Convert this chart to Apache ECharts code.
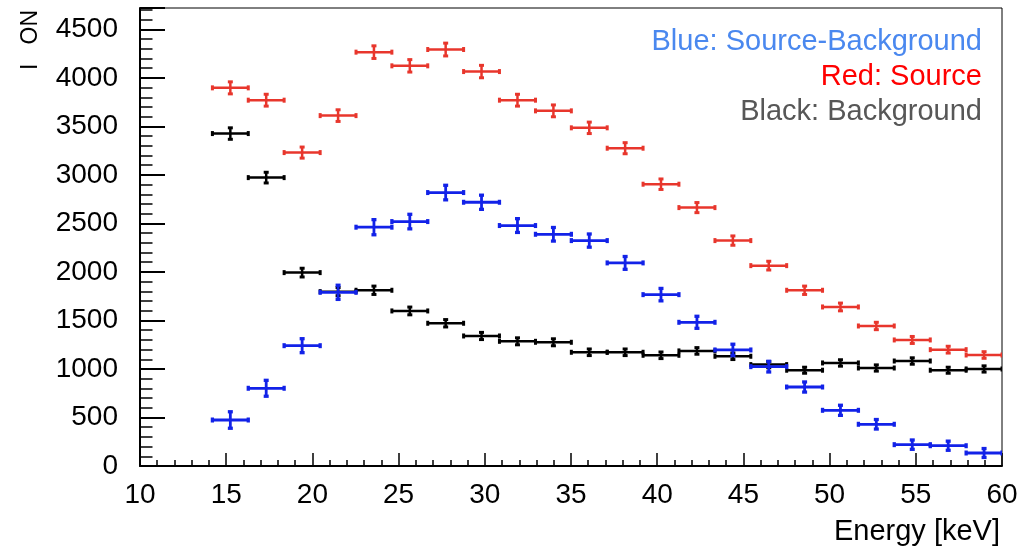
<!DOCTYPE html>
<html>
<head>
<meta charset="utf-8">
<title>Energy spectrum</title>
<script src="https://cdn.jsdelivr.net/npm/echarts@6/dist/echarts.min.js"></script>
<style>
  html, body { margin: 0; padding: 0; background: #fff; }
  #chart { width: 1021px; height: 550px; }
</style>
</head>
<body>
<div id="chart"></div>
<script>
// Energy bin edges [keV] (22 bins)
const binEdges = [14.20, 16.28, 18.36, 20.45, 22.53, 24.61, 26.69, 28.77, 30.85, 32.94, 35.02,
                  37.10, 39.18, 41.26, 43.35, 45.43, 47.51, 49.59, 51.67, 53.75, 55.84, 57.92, 60.00];

// Source counts and errors
const sourceCounts = [3897, 3770, 3230, 3611, 4265, 4124, 4292, 4065, 3770, 3660, 3485,
                      3275, 2904, 2663, 2323, 2065, 1811, 1639, 1443, 1299, 1199, 1144];
const sourceErrors = [62, 61, 57, 60, 65, 64, 66, 64, 61, 61, 59,
                      57, 54, 52, 48, 45, 43, 40, 38, 36, 35, 34];

// Background counts and errors
const backgroundCounts = [3426, 2972, 1993, 1797, 1811, 1598, 1471, 1340, 1285, 1275, 1172,
                          1172, 1141, 1186, 1131, 1045, 987, 1062, 1010, 1082, 987, 1000];
const backgroundErrors = [59, 55, 45, 42, 43, 40, 38, 37, 36, 36, 34,
                          34, 34, 34, 34, 32, 31, 33, 32, 33, 31, 32];

// Source minus background and errors
const differenceCounts = [474, 801, 1240, 1790, 2461, 2519, 2818, 2718, 2478, 2388, 2323,
                          2093, 1766, 1481, 1196, 1024, 814, 574, 430, 220, 209, 134];
const differenceErrors = [85, 82, 72, 73, 78, 75, 75, 73, 71, 70, 68,
                          66, 64, 62, 59, 55, 52, 52, 49, 48, 47, 46];

// Axis tick labels
const xTickLabels = [10, 15, 20, 25, 30, 35, 40, 45, 50, 55, 60];
const yTickLabels = [0, 500, 1000, 1500, 2000, 2500, 3000, 3500, 4000, 4500];

const FONT = 'Liberation Sans, Arial, Helvetica, sans-serif';

function toRows(counts, errors) {
  return counts.map((v, i) => [binEdges[i], binEdges[i + 1], v, errors[i]]);
}

// Histogram-style point: horizontal bin-width bar, vertical error bar, small end caps
function errorBarRenderer(color, width) {
  return function (params, api) {
    const lo = api.value(0), hi = api.value(1), y = api.value(2), err = api.value(3);
    const c = (lo + hi) / 2;
    const pL = api.coord([lo, y]);
    const pR = api.coord([hi, y]);
    const pT = api.coord([c, y + err]);
    const pB = api.coord([c, y - err]);
    const cap = 2.5;
    const style = { stroke: color, lineWidth: width, fill: null };
    const capStyle = { stroke: color, lineWidth: width + 0.5, fill: null };
    const seg = (x1, y1, x2, y2, s) => ({ type: 'line', shape: { x1, y1, x2, y2 }, style: s || style });
    return {
      type: 'group',
      children: [
        seg(pL[0], pL[1], pR[0], pR[1]),
        seg(pT[0], pT[1], pB[0], pB[1]),
        seg(pL[0], pL[1] - cap, pL[0], pL[1] + cap, capStyle),
        seg(pR[0], pR[1] - cap, pR[0], pR[1] + cap, capStyle),
        seg(pT[0] - cap, pT[1], pT[0] + cap, pT[1], capStyle),
        seg(pB[0] - cap, pB[1], pB[0] + cap, pB[1], capStyle)
      ]
    };
  };
}

function histSeries(name, counts, errors, color, width) {
  return {
    name,
    type: 'custom',
    xAxisIndex: 0,
    yAxisIndex: 0,
    clip: true,
    encode: { x: [0, 1], y: 2 },
    renderItem: errorBarRenderer(color, width),
    data: toRows(counts, errors),
    silent: true,
    animation: false
  };
}

const chart = echarts.init(document.getElementById('chart'), null, { renderer: 'canvas' });

chart.setOption({
  animation: false,
  backgroundColor: '#fff',
  grid: {
    left: 140, right: 19, top: 8, bottom: 84,
    show: true, borderColor: '#000', borderWidth: 1, backgroundColor: 'transparent',
    containLabel: false, outerBoundsMode: 'none'
  },
  xAxis: {
    type: 'value',
    min: 10, max: 60, interval: 5,
    name: 'Energy [keV]',
    nameLocation: 'end',
    nameGap: -2,
    nameMoveOverlap: false,
    nameTextStyle: {
      fontFamily: FONT, fontSize: 29, color: '#000',
      align: 'right', verticalAlign: 'top', padding: [51, 0, 0, 0]
    },
    axisLine: { show: true, onZero: false, lineStyle: { color: '#000', width: 2 } },
    axisTick: { show: true, inside: true, length: 13, lineStyle: { color: '#000', width: 1.5 } },
    minorTick: { show: true, splitNumber: 5, length: 6, lineStyle: { color: '#000', width: 1.5 } },
    splitLine: { show: false },
    axisLabel: {
      show: true, margin: 15, fontFamily: FONT, fontSize: 28, color: '#000',
      customValues: xTickLabels,
      formatter: v => String(v)
    }
  },
  yAxis: {
    type: 'value',
    min: 0, max: 4720, interval: 500,
    name: 'I   ON',
    nameLocation: 'end',
    nameRotate: 90,
    nameGap: -2,
    nameMoveOverlap: false,
    nameTextStyle: {
      fontFamily: FONT, fontSize: 23, color: '#000',
      align: 'right', verticalAlign: 'bottom', padding: [0, 0, 98, 0]
    },
    axisLine: { show: true, onZero: false, lineStyle: { color: '#000', width: 2 } },
    axisTick: { show: true, inside: true, length: 25, lineStyle: { color: '#000', width: 2 } },
    minorTick: { show: true, splitNumber: 5, length: 12.5, lineStyle: { color: '#000', width: 1.5 } },
    splitLine: { show: false },
    axisLabel: {
      show: true, margin: 22, fontFamily: FONT, fontSize: 28, color: '#000',
      showMaxLabel: false,
      formatter: v => (yTickLabels.indexOf(v) >= 0 ? String(v) : '')
    }
  },
  graphic: [
    { type: 'text', right: 39, top: 27, silent: true,
      style: { text: 'Blue: Source-Background', fill: '#4a88ef', font: '29px ' + FONT } },
    { type: 'text', right: 39, top: 62, silent: true,
      style: { text: 'Red: Source', fill: '#ff0000', font: '29px ' + FONT } },
    { type: 'text', right: 39, top: 97, silent: true,
      style: { text: 'Black: Background', fill: '#575757', font: '29px ' + FONT } }
  ],
  series: [
    histSeries('Source', sourceCounts, sourceErrors, '#e8362c', 2.5),
    histSeries('Background', backgroundCounts, backgroundErrors, '#000000', 2.5),
    histSeries('Source-Background', differenceCounts, differenceErrors, '#1222e8', 2.8)
  ]
});
</script>
</body>
</html>
